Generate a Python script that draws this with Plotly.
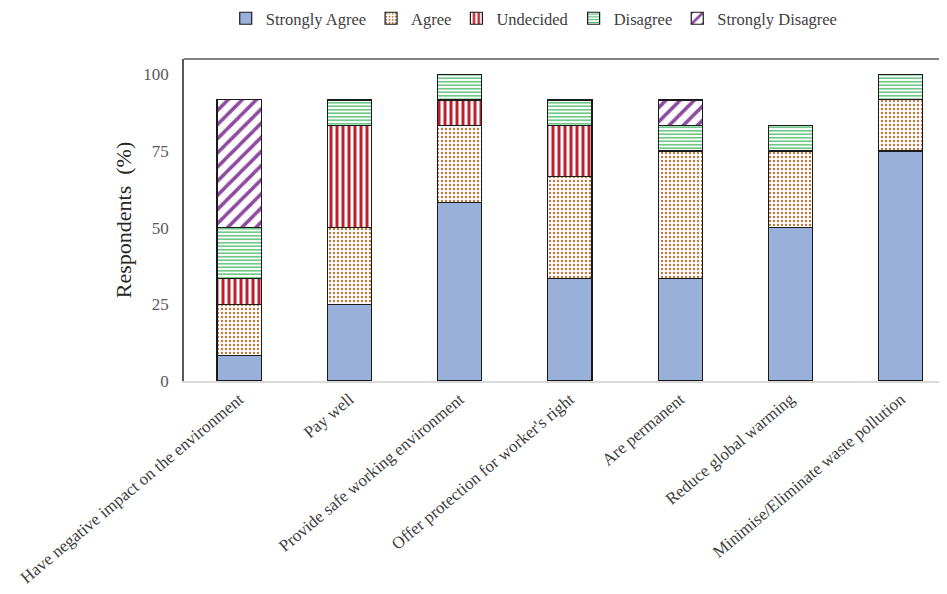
import plotly.graph_objects as go

categories = [
    "Have negative impact on the environment",
    "Pay well",
    "Provide safe working environment",
    "Offer protection for worker's right",
    "Are permanent",
    "Reduce global warming",
    "Minimise/Eliminate waste pollution",
]

strongly_agree = [8.33, 25.0, 58.33, 33.33, 33.33, 50.0, 75.0]
agree = [16.67, 25.0, 25.0, 33.33, 41.67, 25.0, 16.67]
undecided = [8.33, 33.33, 8.33, 16.67, 0, 0, 0]
disagree = [16.67, 8.33, 8.33, 8.33, 8.33, 8.33, 8.33]
strongly_disagree = [41.67, 0, 0, 0, 8.33, 0, 0]

y_ticks = [0, 25, 50, 75, 100]

FONT = "Liberation Serif, Times New Roman, serif"

series = [
    ("Strongly Agree", strongly_agree, dict(color="#98b0da")),
    ("Agree", agree, dict(color="white", pattern=dict(shape=".", fgcolor="#c07a45", bgcolor="white", size=4, solidity=0.3, fillmode="replace"))),
    ("Undecided", undecided, dict(color="white", pattern=dict(shape="|", fgcolor="#c01f2a", bgcolor="white", size=6, solidity=0.5, fillmode="replace"))),
    ("Disagree", disagree, dict(color="white", pattern=dict(shape="-", fgcolor="#4fba6f", bgcolor="white", size=3.5, solidity=0.4, fillmode="replace"))),
    ("Strongly Disagree", strongly_disagree, dict(color="white", pattern=dict(shape="/", fgcolor="#8e4a9f", bgcolor="white", size=10, solidity=0.35, fillmode="replace"))),
]

fig = go.Figure()
for name, vals, marker in series:
    m = dict(marker)
    m["line"] = dict(color="#1a1a1a", width=1.2)
    fig.add_trace(go.Bar(name=name, x=list(range(len(categories))), y=vals, marker=m, width=0.4))

fig.update_layout(
    barmode="stack",
    width=939, height=586,
    margin=dict(l=176, r=0, t=51, b=213, autoexpand=False),
    paper_bgcolor="white", plot_bgcolor="white",
    font=dict(family=FONT, size=16, color="#404040"),
    legend=dict(orientation="h", x=0.459, xanchor="center", xref="paper",
                y=1.18, yref="paper", yanchor="top",
                font=dict(family=FONT, size=16.5, color="#404040"), traceorder="normal",
                itemwidth=30, tracegroupgap=0),
    xaxis=dict(
        range=[-0.5, 6.42],
        tickmode="array", tickvals=list(range(len(categories))), ticktext=categories,
        tickangle=-40, showline=True, linecolor="#d9d9d9", linewidth=1.5,
        showgrid=False, ticks="", zeroline=False, automargin=False,
        tickfont=dict(family=FONT, size=17, color="#404040"),
    ),
    yaxis=dict(
        range=[0, 105], tickmode="array", tickvals=y_ticks,
        showline=True, linecolor="#595959", linewidth=1.5,
        showgrid=False, ticks="", zeroline=False, ticklabelstandoff=10, automargin=False,
        tickfont=dict(family=FONT, size=17, color="#595959"),
        title=dict(text="Respondents  (%)", font=dict(family=FONT, size=22, color="#262626"), standoff=6),
    ),
    shapes=[dict(type="line", xref="paper", yref="paper", x0=0, x1=1, y0=1, y1=1,
                 line=dict(color="#595959", width=1.5))],
)

fig.write_html("out.html")
